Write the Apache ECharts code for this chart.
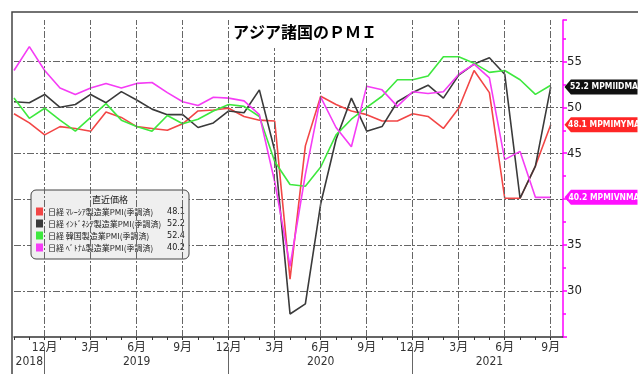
<!DOCTYPE html>
<html>
<head>
<meta charset="utf-8">
<script src="https://cdn.jsdelivr.net/npm/echarts@6/dist/echarts.min.js"></script>
<style>
  html, body { margin: 0; padding: 0; background: #fff; }
  #chart { width: 638px; height: 374px; }
</style>
</head>
<body>
<div id="chart"></div>
<script>
// Monthly PMI readings, Oct 2018 – Sep 2021
const months = [
  '2018-10','2018-11','2018-12',
  '2019-01','2019-02','2019-03','2019-04','2019-05','2019-06','2019-07','2019-08','2019-09','2019-10','2019-11','2019-12',
  '2020-01','2020-02','2020-03','2020-04','2020-05','2020-06','2020-07','2020-08','2020-09','2020-10','2020-11','2020-12',
  '2021-01','2021-02','2021-03','2021-04','2021-05','2021-06','2021-07','2021-08','2021-09'
];

const malaysia = [
  49.3, 48.3, 47.0,
  47.9, 47.7, 47.4, 49.5, 48.9, 47.9, 47.7, 47.5, 48.2, 49.6, 49.7, 49.9,
  49.0, 48.6, 48.5, 31.3, 45.8, 51.2, 50.3, 49.6, 49.2, 48.5, 48.5, 49.3,
  49.0, 47.7, 49.9, 54.0, 51.6, 40.1, 40.1, 43.6, 48.1
];
const indonesia = [
  50.6, 50.5, 51.4,
  50.0, 50.3, 51.4, 50.5, 51.7, 50.8, 49.8, 49.2, 49.2, 47.8, 48.3, 49.6,
  49.4, 51.9, 45.3, 27.5, 28.6, 39.5, 46.5, 51.0, 47.4, 47.9, 50.6, 51.6,
  52.4, 51.0, 53.5, 54.7, 55.4, 53.6, 40.1, 43.6, 52.2
];
const korea = [
  51.0, 48.8, 49.9,
  48.6, 47.4, 48.9, 50.4, 48.6, 47.9, 47.4, 49.1, 48.2, 48.7, 49.6, 50.3,
  50.1, 49.0, 44.1, 41.6, 41.4, 43.5, 47.0, 48.7, 50.0, 51.2, 53.0, 53.0,
  53.4, 55.5, 55.5, 54.8, 53.8, 54.0, 53.0, 51.4, 52.4
];
const vietnam = [
  54.0, 56.6, 54.0,
  52.1, 51.4, 52.1, 52.6, 52.1, 52.6, 52.7, 51.6, 50.6, 50.2, 51.1, 51.0,
  50.7, 49.2, 41.9, 32.7, 42.7, 51.1, 47.8, 45.7, 52.3, 51.9, 50.1, 51.7,
  51.5, 51.7, 53.6, 54.7, 53.2, 44.3, 45.2, 40.2, 40.2
];

const seriesNames = [
  '日経 ﾏﾚｰｼｱ製造業PMI(季調済)',
  '日経 ｲﾝﾄﾞﾈｼｱ製造業PMI(季調済)',
  '日経 韓国製造業PMI(季調済)',
  '日経 ﾍﾞﾄﾅﾑ製造業PMI(季調済)'
];
const tickerCodes = ['MPMIMYMA', 'MPMIIDMA', 'MPMIKRMA', 'MPMIVNMA'];

// Axis labels
const tickMonths = ['12月','3月','6月','9月','12月','3月','6月','9月','12月','3月','6月','9月'];
const yearLabels = ['2018', '2019', '2020', '2021'];
const yTicks = [30, 35, 40, 45, 50, 55];

// ---- layout & styling ----
const X_MAX = 35.8;                       // axis runs a little past the last month
const quarterIdx = tickMonths.map((_, k) => 2 + 3 * k);
const monthIdx = months.map((_, i) => i);
const yearPos = [1, 8, 20, 31];           // centre of each year's label
const yearBreaks = [2, 14, 26];
const colors = ['#f24646', '#3a3a3a', '#3ee83e', '#f53cf5'];
const tagColors = ['#ff2626', '#111111', null, '#ff10ff'];
const narrow = '"Liberation Sans Narrow", "DejaVu Sans Condensed", "Noto Sans CJK JP", sans-serif';
const jp = '"Noto Sans CJK JP", sans-serif';

const values = [malaysia, indonesia, korea, vietnam];
const lastVals = values.map(a => a[a.length - 1]);

const chart = echarts.init(document.getElementById('chart'));

const pmiSeries = values.map((arr, s) => {
  const ser = {
    name: seriesNames[s],
    type: 'line',
    data: months.map((m, i) => [i, arr[i]]),
    showSymbol: false,
    symbol: 'none',
    z: 3,
    lineStyle: { width: 1.6, color: colors[s] },
    itemStyle: { color: colors[s] }
  };
  if (tagColors[s]) {
    ser.markPoint = {
      silent: true,
      animation: false,
      symbol: 'path://M0,7L7,0H80V14H7Z',
      symbolSize: [73, 15],
      symbolKeepAspect: false,
      symbolOffset: [38, 0],
      itemStyle: { color: tagColors[s] },
      label: {
        show: true,
        position: 'inside',
        offset: [3, 0],
        color: '#fff',
        fontSize: 8.5,
        fontWeight: 'bold',
        fontFamily: narrow,
        formatter: lastVals[s].toFixed(1) + ' ' + tickerCodes[s]
      },
      data: [{ coord: [X_MAX, lastVals[s]] }]
    };
  }
  return ser;
});

// dash-dot vertical grid at each quarter
const gridSeries = {
  name: 'grid',
  type: 'line',
  data: [],
  silent: true,
  z: 1,
  markLine: {
    silent: true,
    animation: false,
    symbol: ['none', 'none'],
    label: { show: false },
    lineStyle: { color: '#666', width: 1, type: [7, 2, 2, 2] },
    data: quarterIdx.map(i => ({ xAxis: i }))
  }
};

const option = {
  animation: false,
  backgroundColor: '#fff',
  title: {
    text: 'アジア諸国のＰＭＩ',
    left: 230,
    top: 17,
    backgroundColor: '#fff',
    padding: [7, 20, 8, 3],
    textStyle: { fontSize: 16, fontWeight: 'bold', color: '#000', fontFamily: jp }
  },
  grid: { left: 14, right: 75, top: 20, bottom: 37, containLabel: false },
  legend: {
    data: seriesNames,
    left: 31,
    top: 190,
    orient: 'vertical',
    icon: 'rect',
    itemWidth: 7,
    itemHeight: 8,
    itemGap: 3,
    itemTextGap: 4,
    selectedMode: false,
    padding: [17, 4, 7, 5],
    backgroundColor: '#efefef',
    borderColor: '#444',
    borderWidth: 1,
    borderRadius: 5,
    textStyle: {
      fontSize: 8,
      color: '#222',
      fontFamily: jp,
      lineHeight: 9,
      rich: {
        n: { width: 120, fontSize: 8, lineHeight: 9, color: '#222', fontFamily: jp },
        v: { width: 17, align: 'right', fontSize: 9, lineHeight: 9, color: '#222', fontFamily: narrow }
      }
    },
    formatter: name => {
      const k = seriesNames.indexOf(name);
      return '{n|' + name + '}{v|' + lastVals[k].toFixed(1) + '}';
    }
  },
  xAxis: [
    {
      type: 'value', min: 0, max: X_MAX, position: 'bottom',
      axisLine: { show: true, onZero: false, lineStyle: { color: '#333', width: 1.5 } },
      axisTick: { show: true, customValues: monthIdx, length: 3, lineStyle: { color: '#333' } },
      axisLabel: {
        customValues: quarterIdx, margin: 5, fontSize: 12, color: '#333', fontFamily: narrow,
        formatter: v => tickMonths[quarterIdx.indexOf(Math.round(v))] || ''
      },
      splitLine: { show: false }
    },
    {
      type: 'value', min: 0, max: X_MAX, position: 'bottom',
      axisLine: { show: false },
      axisTick: { show: false },
      axisLabel: {
        customValues: yearPos, margin: 19, fontSize: 12, color: '#333', fontFamily: narrow,
        formatter: v => yearLabels[yearPos.indexOf(v)] || ''
      },
      splitLine: { show: false }
    },
    {
      type: 'value', min: 0, max: X_MAX, position: 'bottom', offset: 10,
      axisLine: { show: false },
      axisTick: { show: true, customValues: yearBreaks, length: 27, lineStyle: { color: '#666' } },
      axisLabel: { show: false },
      splitLine: { show: false }
    }
  ],
  yAxis: {
    type: 'value', position: 'right', min: 25, max: 59.5, interval: 5,
    axisLine: { show: true, onZero: false, lineStyle: { color: '#ff00ff', width: 1.5 } },
    axisTick: { show: true, length: 4, lineStyle: { color: '#ff00ff', width: 1.5 } },
    minorTick: { show: true, splitNumber: 2, length: 3, lineStyle: { color: '#ff00ff', width: 1.5 } },
    axisLabel: {
      margin: 4, fontSize: 13, color: '#222', fontFamily: narrow,
      formatter: v => (yTicks.indexOf(v) >= 0 ? String(v) : '')
    },
    splitLine: {
      show: true, showMaxLine: false, showMinLine: false,
      lineStyle: { color: '#666', width: 1, type: [7, 2, 2, 2] }
    }
  },
  graphic: [
    {
      type: 'rect', silent: true, z: 0,
      shape: { x: 12, y: 12, width: 700, height: 400 },
      style: { fill: 'none', stroke: '#444', lineWidth: 1.5 }
    },
    {
      type: 'text', silent: true, z: 100,
      x: 110, y: 200,
      style: { text: '直近価格', align: 'center', verticalAlign: 'middle', font: '9px "Noto Sans CJK JP"', fill: '#222' }
    }
  ],
  series: [gridSeries].concat(pmiSeries)
};

chart.setOption(option);
</script>
</body>
</html>
